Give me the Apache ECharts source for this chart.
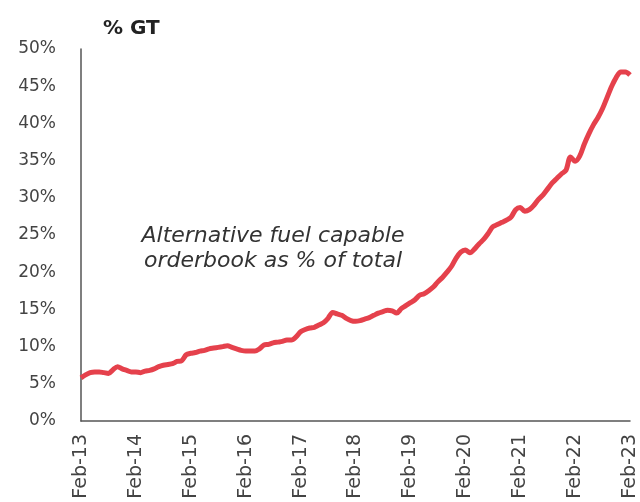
<!DOCTYPE html>
<html>
<head>
<meta charset="utf-8">
<script src="https://cdn.jsdelivr.net/npm/echarts@6/dist/echarts.min.js"></script>
<style>
  html, body { margin: 0; padding: 0; background: #fff; }
  #chart { width: 640px; height: 502px; }
</style>
</head>
<body>
<div id="chart"></div>
<script>
// Alternative fuel capable share of the orderbook, monthly, Feb-2013 .. Feb-2023 (% of GT)
const monthNames = ['Jan','Feb','Mar','Apr','May','Jun','Jul','Aug','Sep','Oct','Nov','Dec'];
const startYear = 2013;
const startMonth = 1; // Feb

const shareValues = [
  5.8, 6.2, 6.5, 6.6, 6.6, 6.5, 6.4, 6.9, 7.3, 7.0, 6.8, 6.6,
  6.6, 6.5, 6.7, 6.8, 7.0, 7.3, 7.5, 7.6, 7.7, 8.0, 8.1, 8.9,
  9.1, 9.2, 9.4, 9.5, 9.7, 9.8, 9.9, 10.0, 10.1, 9.9, 9.7, 9.5,
  9.4, 9.4, 9.4, 9.7, 10.2, 10.3, 10.5, 10.6, 10.7, 10.9, 10.9, 11.3,
  12.0, 12.3, 12.5, 12.6, 12.9, 13.2, 13.8, 14.6, 14.4, 14.2, 13.8, 13.5,
  13.4, 13.5, 13.7, 13.9, 14.2, 14.5, 14.7, 14.9, 14.8, 14.5, 15.1, 15.5,
  15.9, 16.3, 16.9, 17.1, 17.5, 18.0, 18.7, 19.3, 20.0, 20.8, 21.9, 22.7,
  23.0, 22.6, 23.1, 23.8, 24.4, 25.2, 26.1, 26.4, 26.7, 27.0, 27.4, 28.4,
  28.7, 28.2, 28.4, 29.0, 29.8, 30.4, 31.2, 32.0, 32.6, 33.2, 33.7, 35.5,
  34.9, 35.6, 37.2, 38.6, 39.8, 40.8, 42.0, 43.5, 45.0, 46.2, 46.9, 46.9,
  46.5
];

// Month labels such as "Feb-13"
const monthLabels = shareValues.map((_, i) => {
  const m = (startMonth + i) % 12;
  const y = startYear + Math.floor((startMonth + i) / 12);
  return monthNames[m] + '-' + String(y % 100).padStart(2, '0');
});

const yTicks = [0, 5, 10, 15, 20, 25, 30, 35, 40, 45, 50];
const noteLines = ['Alternative fuel capable', 'orderbook as % of total'];

const fontFamily = '"DejaVu Sans", sans-serif';
const chart = echarts.init(document.getElementById('chart'), null, { renderer: 'canvas' });

chart.setOption({
  animation: false,
  backgroundColor: '#ffffff',
  grid: { left: 81, right: 10, top: 49, bottom: 81, containLabel: false },
  title: {
    text: '% GT',
    left: 98,
    top: 14,
    textStyle: { fontFamily: fontFamily, fontSize: 20, fontWeight: 'bold', color: '#222' }
  },
  xAxis: {
    type: 'category',
    data: monthLabels,
    boundaryGap: false,
    axisLine: { lineStyle: { color: '#555', width: 1.5 } },
    axisTick: { show: false },
    axisLabel: {
      interval: 11,
      rotate: 90,
      margin: 13,
      color: '#444',
      fontFamily: fontFamily,
      fontSize: 19
    },
    splitLine: { show: false }
  },
  yAxis: {
    type: 'value',
    min: yTicks[0],
    max: yTicks[yTicks.length - 1],
    interval: 5,
    axisLine: { show: true, lineStyle: { color: '#555', width: 1.5 } },
    axisTick: { show: false },
    axisLabel: {
      margin: 25,
      color: '#444',
      fontFamily: fontFamily,
      fontSize: 17,
      formatter: v => v + '%'
    },
    splitLine: { show: false }
  },
  graphic: [{
    type: 'text',
    x: 273,
    y: 224,
    style: {
      text: noteLines.join('\n'),
      font: 'italic 22px ' + fontFamily,
      fill: '#333',
      align: 'center',
      verticalAlign: 'top',
      lineHeight: 25
    }
  }],
  series: [{
    type: 'line',
    data: shareValues,
    showSymbol: false,
    smooth: 0.3,
    lineStyle: { color: '#e5414c', width: 5 },
    itemStyle: { color: '#e5414c' }
  }]
});
</script>
</body>
</html>
